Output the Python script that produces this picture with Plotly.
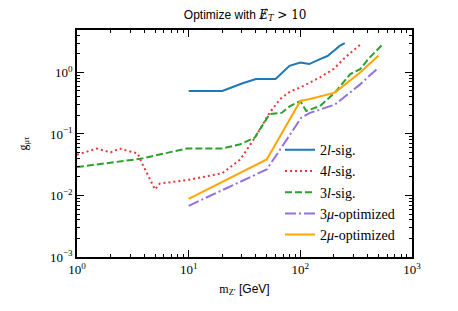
import plotly.graph_objects as go

# ---- data ----
x_2l = [10, 20, 30, 40, 60, 80, 100, 120, 150, 175, 200, 225, 250]
y_2l = [0.5, 0.5, 0.66, 0.78, 0.78, 1.28, 1.45, 1.37, 1.65, 1.85, 2.25, 2.7, 3.0]

x_4l = [1, 1.5, 2, 2.4, 3, 3.5, 3.8, 5, 5.5, 10, 20, 29, 40, 53, 66, 81, 100, 150, 200, 260, 350]
y_4l = [0.046, 0.058, 0.050, 0.058, 0.052, 0.048, 0.034, 0.0125, 0.0156, 0.018, 0.023, 0.0385,
        0.092, 0.22, 0.37, 0.49, 0.57, 0.83, 1.15, 1.85, 2.9]

x_3l = [1, 3.7, 9.6, 20, 29, 39, 53, 68, 81, 100, 113, 150, 204, 280, 343, 405, 550]
y_3l = [0.029, 0.0395, 0.058, 0.058, 0.068, 0.087, 0.21, 0.22, 0.285, 0.344, 0.236, 0.285,
        0.47, 0.94, 1.13, 1.65, 2.9]

x_3mu = [10, 50, 66, 102, 122, 204, 343, 500]
y_3mu = [0.0068, 0.0265, 0.056, 0.184, 0.22, 0.30, 0.64, 1.2]

x_2mu = [10, 50, 100, 122, 204, 343, 500]
y_2mu = [0.0088, 0.0385, 0.344, 0.37, 0.47, 1.0, 1.87]

x_tickvals = [1, 10, 100, 1000]
x_ticktext = ["10<sup>0</sup>", "10<sup>1</sup>", "10<sup>2</sup>", "10<sup>3</sup>"]
y_tickvals = [0.001, 0.01, 0.1, 1]
y_ticktext = ["10<sup>\u22123</sup>", "10<sup>\u22122</sup>", "10<sup>\u22121</sup>", "10<sup>0</sup>"]

SERIF = "Liberation Serif"
SANS = "Liberation Sans"

fig = go.Figure()
series = [
    (x_2l, y_2l, "2<i>l</i>-sig.", "#1f77b4", "solid"),
    (x_4l, y_4l, "4<i>l</i>-sig.", "#e8363a", "2px,3px"),
    (x_3l, y_3l, "3<i>l</i>-sig.", "#2ca02c", "7px,3px"),
    (x_3mu, y_3mu, "3<i>\u03bc</i>-optimized", "#9370db", "11px,3px,2px,3px"),
    (x_2mu, y_2mu, "2<i>\u03bc</i>-optimized", "#ffa500", "solid"),
]
for xs, ys, name, col, dash in series:
    fig.add_trace(go.Scatter(x=xs, y=ys, mode="lines", name=name,
                             line=dict(color=col, width=2, dash=dash)))

axis_common = dict(
    type="log", showgrid=False, zeroline=False, showline=True, linecolor="black",
    linewidth=1.5, mirror="allticks", ticks="inside", ticklen=7, tickwidth=1,
    tickcolor="black", tickfont=dict(family=SERIF, size=13, color="black"),
    minor=dict(ticks="inside", ticklen=3.5, tickwidth=0.8, tickcolor="black",
               dtick="D1", showgrid=False),
    automargin=False,
)

fig.update_xaxes(**axis_common, range=[0, 3], tickvals=x_tickvals, ticktext=x_ticktext,
                 title=dict(text="<span style='font-family:Liberation Serif'>m<sub>Z\u2032</sub></span> [GeV]",
                            font=dict(family=SANS, size=12, color="black"), standoff=8))
fig.update_yaxes(**axis_common, range=[-3, 0.69], tickvals=y_tickvals, ticktext=y_ticktext,
                 title=dict(text="g<sub>\u03bc\u03c4</sub>",
                            font=dict(family=SERIF, size=12, color="black"), standoff=20))

fig.update_layout(
    width=450, height=303,
    margin=dict(l=69, r=46, t=22, b=54),
    plot_bgcolor="white", paper_bgcolor="white",
    title=dict(text="Optimize with <span style='font-family:DejaVu Serif'><i>\u0246</i><sub><i>T</i></sub> &gt; 10</span>",
               x=0.527, xanchor="center", y=0.978, yanchor="middle",
               font=dict(family=SANS, size=12, color="black")),
    legend=dict(x=0.606, y=0.03, xanchor="left", yanchor="bottom",
                bgcolor="rgba(0,0,0,0)", borderwidth=0,
                font=dict(family=SERIF, size=14, color="black"),
                tracegroupgap=0, itemwidth=30),
    showlegend=True,
)

fig.write_html("out.html")
